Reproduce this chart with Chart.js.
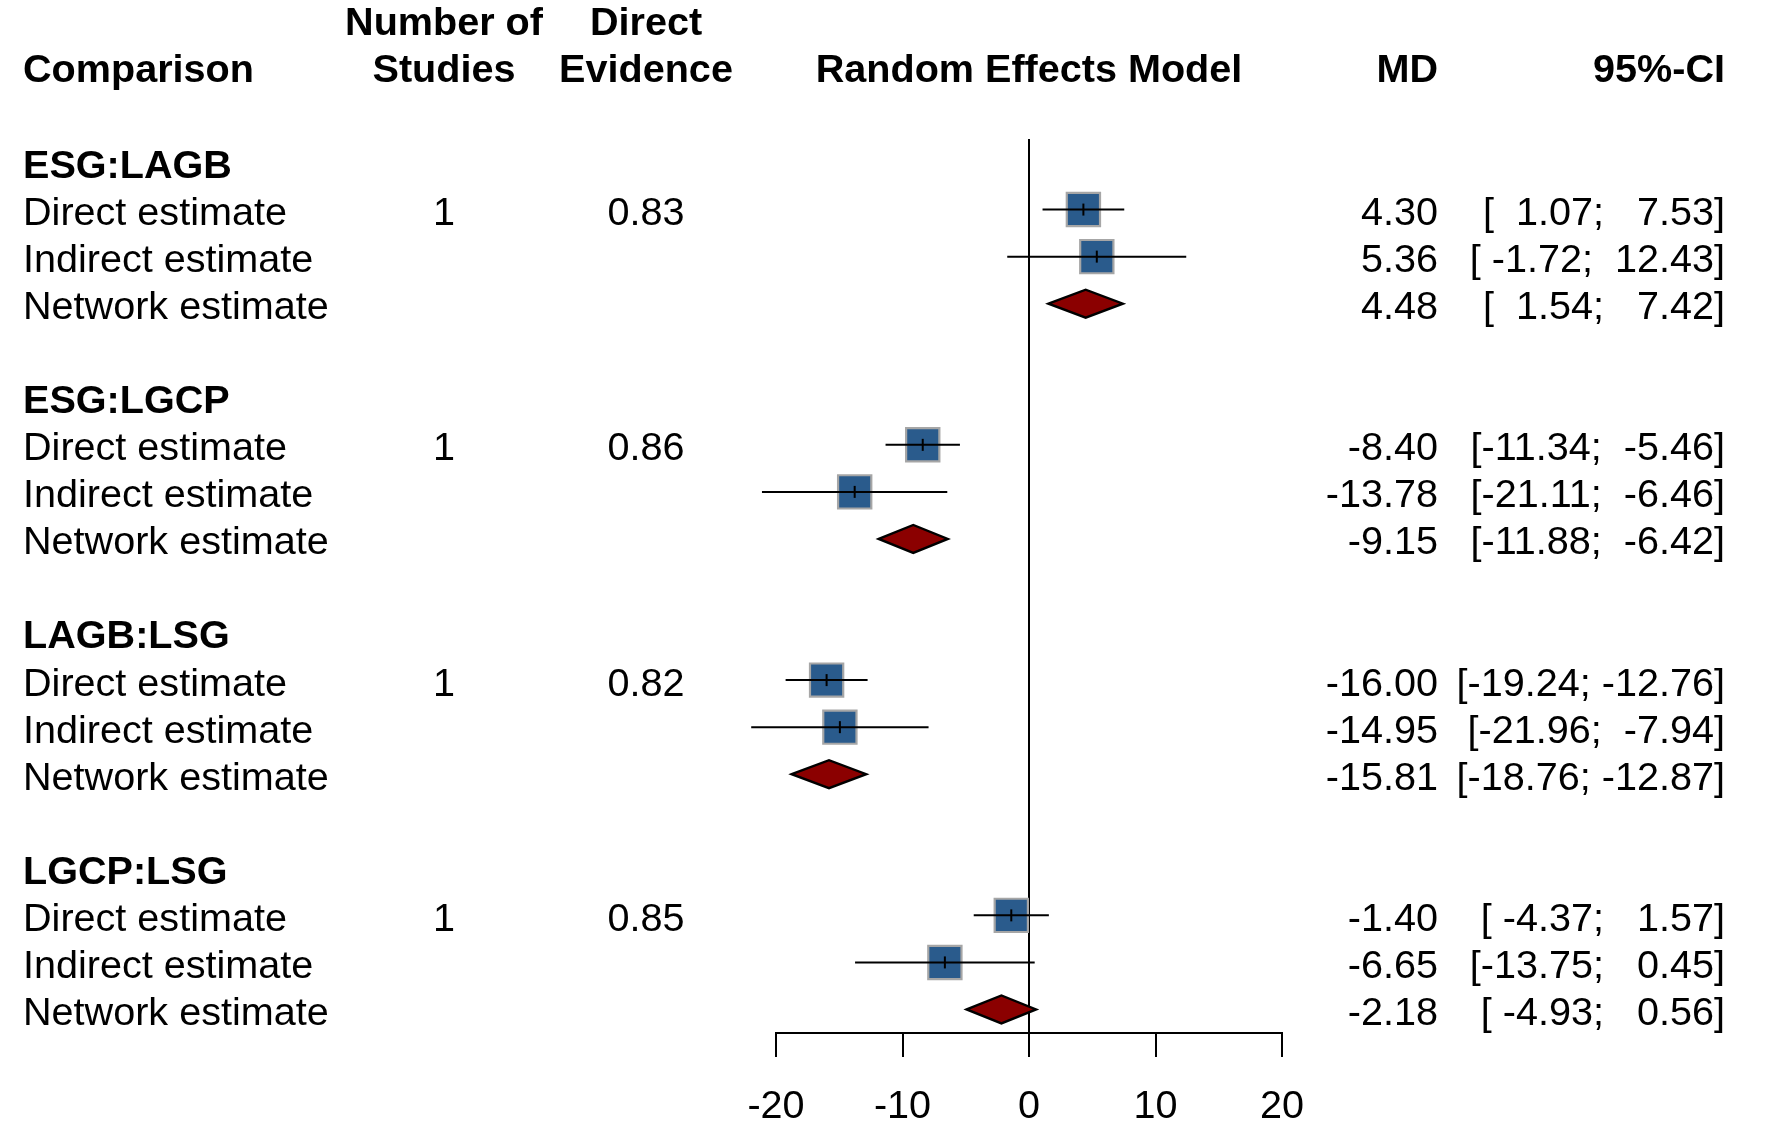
<!DOCTYPE html>
<html>
<head>
<meta charset="utf-8">
<title>Network forest plot</title>
<script src="https://cdn.jsdelivr.net/npm/chart.js@4.4.0/dist/chart.umd.min.js"></script>
<style>
    html, body { margin: 0; padding: 0; background: #ffffff; }
    #wrap { width: 1772px; height: 1132px; position: relative; }
</style>
</head>
<body>
<div id="wrap"><canvas id="forest"></canvas></div>
<script>
// comparisons and estimates
const comparisons = ['ESG:LAGB', 'ESG:LGCP', 'LAGB:LSG', 'LGCP:LSG'];
const estimateLabels = ['Direct estimate', 'Indirect estimate', 'Network estimate'];
const nStudies = [1, 1, 1, 1];
const directEvidence = [0.83, 0.86, 0.82, 0.85];

const directMD = [4.30, -8.40, -16.00, -1.40];
const directLo = [1.07, -11.34, -19.24, -4.37];
const directHi = [7.53, -5.46, -12.76, 1.57];

const indirectMD = [5.36, -13.78, -14.95, -6.65];
const indirectLo = [-1.72, -21.11, -21.96, -13.75];
const indirectHi = [12.43, -6.46, -7.94, 0.45];

const networkMD = [4.48, -9.15, -15.81, -2.18];
const networkLo = [1.54, -11.88, -18.76, -4.93];
const networkHi = [7.42, -6.42, -12.87, 0.56];

const xTicks = [-20, -10, 0, 10, 20];

const FONT = '"Liberation Sans", Arial, Helvetica, sans-serif';
const FONT_SIZE = 39.6;
const SQUARE = '#2A5B8C';
const DIAMOND = '#8B0000';

// each comparison takes 5 rows: label, direct, indirect, network, blank
const rowOf = (g, i) => g * 5 + i;

const ciPoints = [];
const markPoints = [];
const squarePoints = [];
comparisons.forEach(function (c, g) {
    [[directMD, directLo, directHi], [indirectMD, indirectLo, indirectHi]].forEach(function (s, j) {
        const k = rowOf(g, j + 1);
        ciPoints.push({ x: s[1][g], y: k }, { x: s[2][g], y: k }, { x: null, y: null });
        markPoints.push({ x: s[0][g], y: k });
        squarePoints.push({ x: s[0][g], y: k });
    });
});

const fmt = v => v.toFixed(2).padStart(6);
const ciText = (lo, hi) => '[' + fmt(lo) + '; ' + fmt(hi) + ']';

// reference line at 0, drawn below the marks
const refLine = {
    id: 'refLine',
    beforeDatasetsDraw(chart) {
        const { ctx, scales: { x, y }, chartArea } = chart;
        const px = x.getPixelForValue(0);
        ctx.save();
        ctx.strokeStyle = '#000';
        ctx.lineWidth = 2;
        ctx.beginPath();
        ctx.moveTo(px, y.getPixelForValue(-0.5));
        ctx.lineTo(px, chartArea.bottom);
        ctx.stroke();
        ctx.restore();
    }
};

// network estimates as diamonds spanning the CI
const diamonds = {
    id: 'diamonds',
    afterDatasetsDraw(chart) {
        const { ctx, scales: { x, y } } = chart;
        ctx.save();
        ctx.fillStyle = DIAMOND;
        ctx.strokeStyle = '#000';
        ctx.lineWidth = 2.4;
        ctx.lineJoin = 'miter';
        networkMD.forEach(function (m, g) {
            const py = y.getPixelForValue(rowOf(g, 3));
            const h = 14;
            ctx.beginPath();
            ctx.moveTo(x.getPixelForValue(networkLo[g]), py);
            ctx.lineTo(x.getPixelForValue(m), py - h);
            ctx.lineTo(x.getPixelForValue(networkHi[g]), py);
            ctx.lineTo(x.getPixelForValue(m), py + h);
            ctx.closePath();
            ctx.fill();
            ctx.stroke();
        });
        ctx.restore();
    }
};

// table columns left and right of the plot
const table = {
    id: 'table',
    afterDraw(chart) {
        const { ctx, scales: { y }, chartArea } = chart;
        const bold = 'bold ' + FONT_SIZE + 'px ' + FONT;
        const plain = FONT_SIZE + 'px ' + FONT;
        const colLeft = 23, colStudies = 444, colEvidence = 646, colMD = 1438, colCI = 1725;
        const mid = (chartArea.left + chartArea.right) / 2;
        const textShift = 4.5; // middle baseline sits a bit above the cap centre

        ctx.save();
        ctx.fillStyle = '#000';
        ctx.textBaseline = 'middle';

        function put(text, px, k, align, font) {
            ctx.font = font;
            ctx.textAlign = align;
            ctx.fillText(text, px, y.getPixelForValue(k) + textShift);
        }

        // header
        put('Comparison', colLeft, -2.03, 'left', bold);
        put('Number of', colStudies, -3.03, 'center', bold);
        put('Studies', colStudies, -2.03, 'center', bold);
        put('Direct', colEvidence, -3.03, 'center', bold);
        put('Evidence', colEvidence, -2.03, 'center', bold);
        put('Random Effects Model', mid, -2.03, 'center', bold);
        put('MD', colMD, -2.03, 'right', bold);
        put('95%-CI', colCI, -2.03, 'right', bold);

        const md = [directMD, indirectMD, networkMD];
        const lo = [directLo, indirectLo, networkLo];
        const hi = [directHi, indirectHi, networkHi];

        comparisons.forEach(function (c, g) {
            put(c, colLeft, rowOf(g, 0), 'left', bold);
            put(String(nStudies[g]), colStudies, rowOf(g, 1), 'center', plain);
            put(directEvidence[g].toFixed(2), colEvidence, rowOf(g, 1), 'center', plain);
            estimateLabels.forEach(function (lab, j) {
                const k = rowOf(g, j + 1);
                put(lab, colLeft, k, 'left', plain);
                put(md[j][g].toFixed(2), colMD, k, 'right', plain);
                put(ciText(lo[j][g], hi[j][g]), colCI, k, 'right', plain);
            });
        });
        ctx.restore();
    }
};

const chart = new Chart(document.getElementById('forest').getContext('2d'), {
    type: 'scatter',
    data: {
        datasets: [
            {
                type: 'line',
                label: 'CI',
                data: ciPoints,
                borderColor: '#000',
                borderWidth: 2,
                pointRadius: 0,
                spanGaps: false,
                fill: false,
                clip: false,
                order: 0
            },
            {
                label: 'estimate',
                data: markPoints,
                pointStyle: 'line',
                rotation: 90,
                pointRadius: 6,
                borderColor: '#000',
                borderWidth: 2,
                clip: false,
                order: 0
            },
            {
                label: 'squares',
                data: squarePoints,
                pointStyle: 'rect',
                pointRadius: 23.5,
                backgroundColor: SQUARE,
                borderColor: '#A6A6A6',
                borderWidth: 2.2,
                clip: false,
                order: 1
            }
        ]
    },
    options: {
        responsive: true,
        maintainAspectRatio: false,
        animation: false,
        layout: { autoPadding: false, padding: { left: 776, right: 490, top: 0, bottom: 0 } },
        plugins: {
            legend: { display: false },
            tooltip: { enabled: false }
        },
        scales: {
            x: {
                type: 'linear',
                position: 'bottom',
                min: -20,
                max: 20,
                afterBuildTicks: function (scale) {
                    scale.ticks = xTicks.map(v => ({ value: v }));
                },
                afterFit: function (scale) {
                    scale.height = 99;
                },
                grid: {
                    drawOnChartArea: false,
                    drawTicks: true,
                    tickLength: 24,
                    color: '#000',
                    lineWidth: 2
                },
                border: { display: true, color: '#000', width: 2 },
                ticks: {
                    autoSkip: false,
                    maxRotation: 0,
                    padding: 26,
                    color: '#000',
                    font: { family: FONT, size: FONT_SIZE }
                }
            },
            y: {
                type: 'linear',
                display: false,
                reverse: true,
                min: -3.454,
                max: 18.5
            }
        }
    },
    plugins: [refLine, diamonds, table]
});
</script>
</body>
</html>
